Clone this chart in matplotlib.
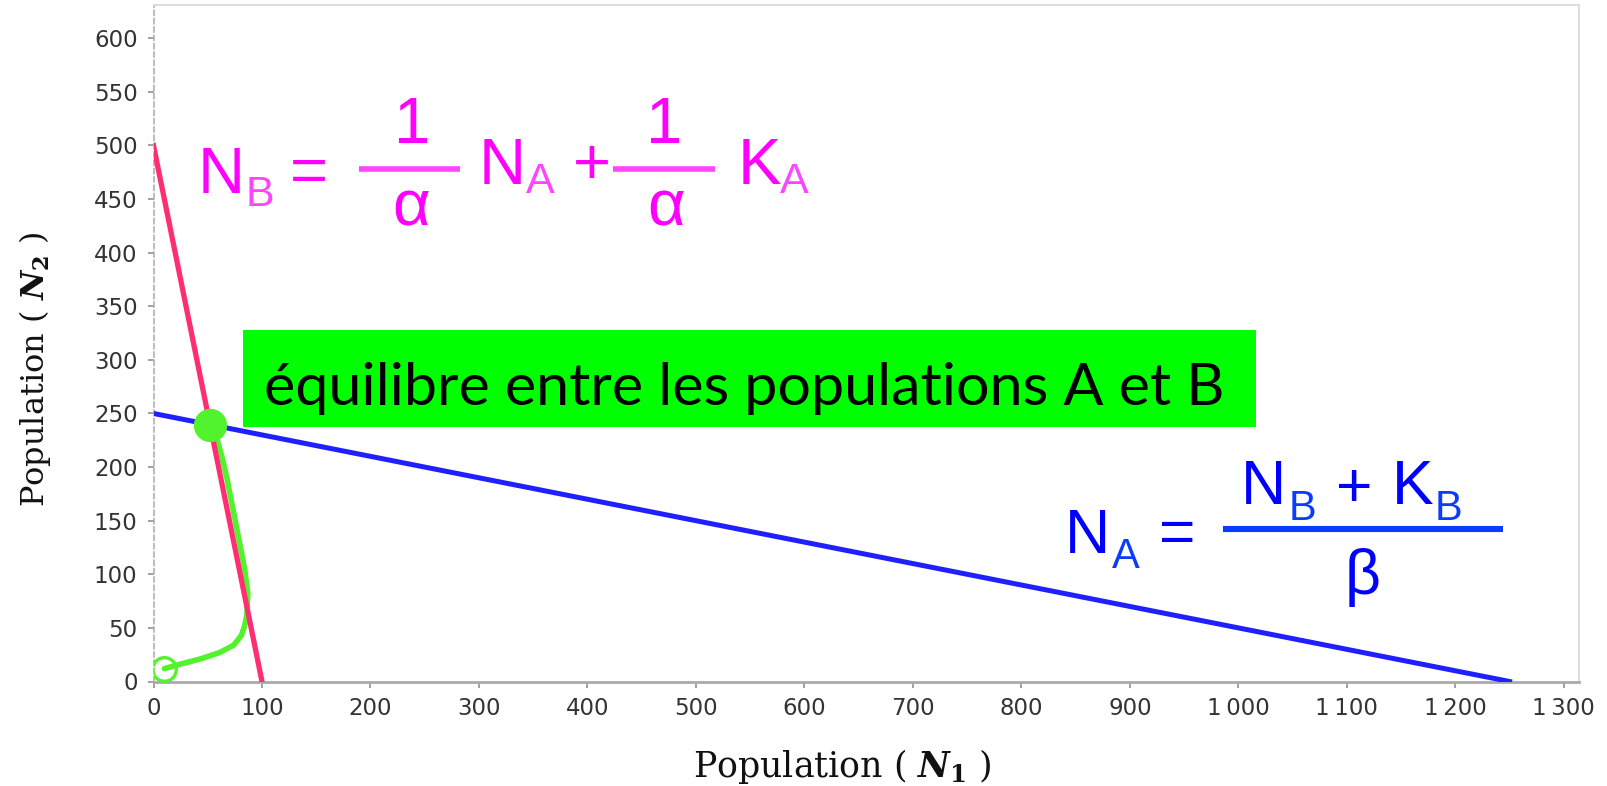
import matplotlib
matplotlib.use("Agg")
import matplotlib.pyplot as plt
from matplotlib.ticker import FuncFormatter
from matplotlib.lines import Line2D
from matplotlib.patches import Rectangle

plt.rcParams["mathtext.fontset"] = "dejavuserif"

# Lotka-Volterra competition: isoclines and one trajectory
K_A, alpha = 100, 0.2          # isocline of species A: N2 = (K_A - N1) / alpha
K_B, beta = 250, 0.2           # isocline of species B: N2 = K_B - beta * N1
isocline_A_n1 = [0, K_A]
isocline_A_n2 = [K_A / alpha, 0]
isocline_B_n1 = [0, K_B / beta]
isocline_B_n2 = [K_B, 0]

traj_n1 = [10, 24, 43, 61, 74, 81, 84, 86, 87, 84, 80, 74, 68, 63, 58, 52.1]
traj_n2 = [12, 16, 21, 27, 34, 43, 52, 62, 82, 105, 126, 157, 188, 210, 228, 239.6]
start_point = (10, 12)
equilibrium = (52.1, 239.6)

x_ticks = list(range(0, 1301, 100))
y_ticks = list(range(0, 601, 50))

W, H = 1607, 786
fig = plt.figure(figsize=(W / 100, H / 100), dpi=100)
fig.patch.set_facecolor("white")


def fx(px):
    return px / W


def fy(py):
    return 1 - py / H


ax = fig.add_axes([fx(153.5), fy(681.5), fx(1579) - fx(153.5), fy(5) - fy(681.5)])
ax.set_xlim(0, 1314)
ax.set_ylim(0, 631)

RED = "#ff2d72"
BLUE = "#1f1fff"
GREEN = "#52f22c"

ax.plot(traj_n1, traj_n2, color=GREEN, lw=4.0, solid_capstyle="round",
        solid_joinstyle="round", zorder=2)
ax.plot(isocline_A_n1, isocline_A_n2, color=RED, lw=3.8, zorder=3)
ax.plot(isocline_B_n1, isocline_B_n2, color=BLUE, lw=3.6, zorder=3)
ax.plot(*start_point, marker="o", ms=17, mfc="none", mec=GREEN, mew=2.4,
        zorder=4)
ax.plot(*equilibrium, marker="o", ms=23, color=GREEN, mec=GREEN, zorder=5)

# axes frame
for side in ("top", "right"):
    ax.spines[side].set_color("#dddddd")
    ax.spines[side].set_linewidth(1.5)
ax.spines["left"].set_color("#b0b0b0")
ax.spines["left"].set_linestyle((0, (3, 2)))
ax.spines["left"].set_linewidth(1.2)
ax.spines["bottom"].set_color("#aaaaaa")
ax.spines["bottom"].set_linewidth(2)

ax.set_xticks(x_ticks)
ax.set_yticks(y_ticks)
ax.xaxis.set_major_formatter(FuncFormatter(lambda v, p: f"{int(v):,}".replace(",", "\u2009")))
ax.yaxis.set_major_formatter(FuncFormatter(lambda v, p: f"{int(v)}"))
ax.tick_params(axis="both", direction="out", length=4.5, width=1.3,
               color="#999999", labelsize=16.5, labelcolor="#333333", pad=7)
for lbl in ax.get_xticklabels() + ax.get_yticklabels():
    lbl.set_family("DejaVu Sans")

# axis titles
fig.text(fx(842), fy(777), r"Population ( $\mathbfit{N}_{\mathbf{1}}$ )",
         ha="center", va="baseline", fontsize=25, family="DejaVu Serif", color="#111111")
fig.text(fx(35), fy(369), r"Population ( $\mathbfit{N}_{\mathbf{2}}$ )",
         ha="center", va="center", rotation=90, fontsize=23,
         family="DejaVu Serif", color="#111111")

# equilibrium label
fig.patches.append(Rectangle((fx(243), fy(427)), fx(1256) - fx(243), fy(330) - fy(427),
                             transform=fig.transFigure, facecolor="#00ff00",
                             edgecolor="none", zorder=6))
eq_text = fig.text(fx(744.5), fy(405), "équilibre entre les populations A et B",
                   ha="center", va="baseline", fontsize=35, family="Lato",
                   color="black", zorder=7)
fig.canvas.draw()
bb = eq_text.get_window_extent()
eq_text.set_fontsize(35 * 961 / bb.width)

SANS = "Liberation Sans"


def piece(s, cx, base, size, color):
    fig.text(fx(cx), fy(base), s, ha="center", va="baseline", fontsize=size,
             family=SANS, color=color, zorder=8)


def bar(x0, x1, y, lw, color):
    fig.add_artist(Line2D([fx(x0), fx(x1)], [fy(y), fy(y)], transform=fig.transFigure,
                          lw=lw, color=color, solid_capstyle="butt", zorder=8))


# isocline of B
MAG, MAG2 = "#ff00ff", "#ff44ff"
M, S = 47, 31
piece("N", 221, 193, M, MAG)
piece("B", 260, 206, S, MAG2)
piece("=", 309, 192, M, MAG)
bar(359, 460, 169, 4, MAG2)
piece("1", 412, 143, M, MAG)
piece("α", 411, 226, M, MAG)
piece("N", 502, 184, M, MAG)
piece("A", 540, 193, S, MAG2)
piece("+", 592, 184, M, MAG)
bar(613, 715, 169, 4, MAG2)
piece("1", 664, 143, M, MAG)
piece("α", 666, 226, M, MAG)
piece("K", 759, 184, M, MAG)
piece("A", 794, 193, S, MAG2)

# isocline of A
BL, BL2 = "#0000ff", "#0a3cff"
M2, S2 = 45, 30
piece("N", 1088, 553, M2, BL)
piece("A", 1126, 568, S2, BL2)
piece("=", 1177, 553, M2, BL)
bar(1223, 1503, 529, 4.4, BL2)
piece("N", 1264, 504, M2, BL)
piece("B", 1303, 520, S2, BL2)
piece("+", 1354, 507, M2, BL)
piece("K", 1413, 504, M2, BL)
piece("B", 1448, 520, S2, BL2)
piece("β", 1363, 594, M2, BL)

fig.savefig("out.png", dpi=100)
